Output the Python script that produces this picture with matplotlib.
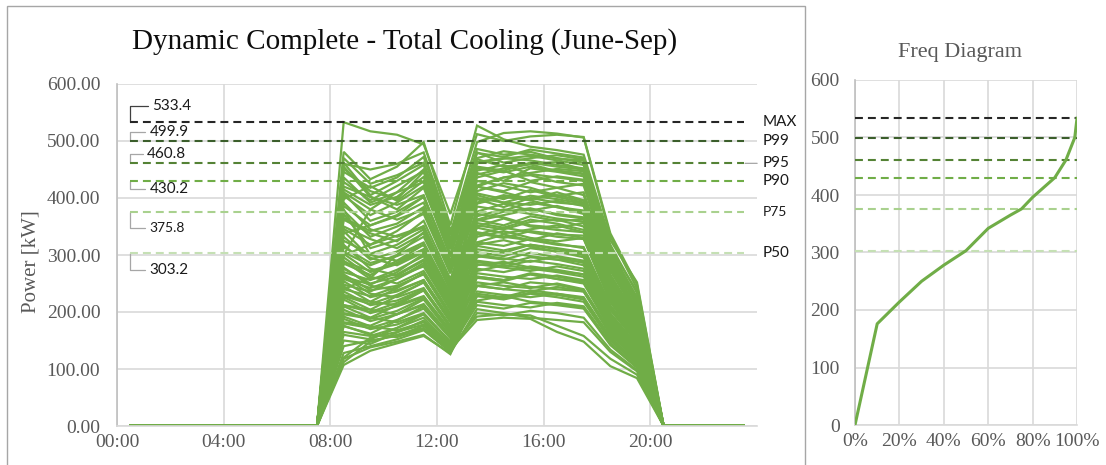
import numpy as np
import matplotlib.pyplot as plt
from matplotlib.patches import Rectangle

# hourly total cooling power [kW] for each day, 08:30 .. 19:30 (zero outside)
day_profiles = [
    [533, 517, 511, 494, 372, 512, 500, 508, 511, 507, 338, 248],
    [481, 433, 455, 498, 352, 527, 503, 490, 484, 476, 326, 252],
    [446, 418, 436, 472, 338, 498, 514, 517, 513, 506, 333, 241],
    [462, 405, 430, 458, 328, 486, 476, 481, 469, 466, 318, 233],
    [428, 396, 421, 447, 316, 479, 472, 485, 478, 471, 309, 226],
    [415, 388, 402, 437, 312, 468, 455, 460, 463, 450, 302, 220],
    [398, 421, 395, 430, 301, 461, 469, 474, 466, 458, 298, 216],
    [404, 370, 392, 421, 297, 452, 445, 455, 448, 443, 295, 214],
    [455, 402, 388, 405, 285, 420, 436, 444, 451, 447, 290, 204],
    [300, 318, 342, 376, 268, 463, 470, 466, 458, 452, 301, 212],
    [372, 312, 326, 351, 248, 441, 452, 459, 447, 442, 288, 200],
    [338, 352, 370, 402, 286, 430, 421, 410, 418, 405, 266, 190],
    [285, 265, 290, 318, 226, 448, 458, 442, 436, 430, 280, 196],
    [410, 380, 362, 380, 272, 390, 402, 396, 384, 378, 248, 176],
    [262, 248, 270, 302, 214, 422, 436, 440, 428, 422, 275, 192],
    [365, 342, 355, 384, 276, 405, 392, 388, 395, 386, 252, 178],
    [248, 236, 258, 286, 205, 408, 398, 414, 402, 392, 258, 182],
    [392, 345, 332, 348, 250, 362, 376, 382, 370, 364, 240, 170],
    [325, 302, 318, 345, 244, 392, 405, 398, 410, 396, 262, 186],
    [230, 218, 242, 268, 192, 385, 378, 392, 384, 372, 244, 172],
    [350, 328, 312, 338, 238, 352, 345, 358, 362, 350, 232, 165],
    [305, 282, 300, 322, 232, 372, 366, 352, 348, 356, 234, 166],
    [212, 204, 228, 252, 182, 368, 380, 372, 364, 358, 236, 168],
    [342, 295, 282, 305, 220, 336, 348, 340, 332, 328, 218, 156],
    [288, 272, 286, 310, 225, 348, 338, 345, 352, 340, 226, 160],
    [198, 190, 212, 238, 172, 356, 348, 362, 355, 344, 228, 162],
    [318, 276, 264, 290, 210, 322, 316, 328, 320, 312, 208, 150],
    [270, 256, 274, 298, 216, 332, 342, 330, 324, 330, 218, 154],
    [182, 176, 196, 222, 162, 340, 332, 326, 338, 330, 220, 158],
    [296, 262, 250, 272, 198, 305, 298, 312, 306, 296, 198, 142],
    [258, 242, 258, 282, 205, 316, 308, 318, 312, 305, 204, 148],
    [175, 162, 185, 210, 155, 318, 326, 315, 306, 300, 206, 150],
    [278, 246, 238, 256, 188, 290, 284, 296, 292, 282, 190, 136],
    [240, 228, 244, 268, 195, 300, 294, 288, 298, 290, 196, 142],
    [160, 152, 172, 196, 146, 298, 292, 304, 296, 286, 194, 140],
    [262, 232, 226, 242, 176, 276, 270, 280, 274, 266, 180, 130],
    [228, 214, 230, 252, 184, 284, 278, 272, 280, 272, 186, 134],
    [150, 144, 164, 185, 140, 282, 288, 278, 272, 266, 182, 132],
    [245, 218, 212, 228, 168, 262, 256, 268, 262, 254, 172, 124],
    [212, 200, 216, 238, 175, 268, 262, 258, 264, 256, 176, 128],
    [140, 150, 158, 176, 135, 262, 256, 266, 258, 250, 170, 122],
    [226, 204, 196, 214, 158, 246, 240, 252, 248, 238, 164, 118],
    [196, 188, 202, 224, 165, 252, 246, 242, 250, 240, 166, 120],
    [128, 140, 152, 168, 130, 246, 240, 236, 244, 236, 162, 116],
    [210, 190, 182, 198, 148, 228, 224, 234, 230, 222, 152, 110],
    [180, 172, 186, 206, 154, 236, 230, 226, 232, 224, 156, 112],
    [118, 138, 148, 160, 126, 228, 222, 232, 226, 218, 150, 108],
    [192, 175, 168, 182, 138, 212, 206, 216, 212, 206, 142, 102],
    [165, 158, 172, 190, 142, 218, 212, 208, 216, 210, 146, 104],
    [107, 132, 145, 158, 128, 205, 198, 190, 186, 182, 130, 96],
    [176, 160, 156, 170, 131, 198, 194, 202, 198, 190, 134, 98],
    [112, 148, 160, 172, 134, 186, 190, 188, 165, 148, 105, 84],
    [120, 155, 165, 178, 138, 192, 196, 194, 176, 158, 118, 90],
    [470, 425, 440, 462, 335, 480, 462, 470, 475, 468, 312, 236],
    [452, 412, 398, 446, 322, 455, 448, 462, 455, 450, 296, 218],
    [436, 392, 410, 428, 310, 444, 430, 452, 446, 438, 292, 212],
    [420, 402, 380, 418, 300, 436, 448, 430, 438, 432, 284, 206],
    [408, 360, 376, 402, 290, 420, 412, 428, 418, 425, 280, 204],
    [386, 352, 368, 392, 280, 412, 426, 418, 404, 410, 272, 198],
    [378, 332, 350, 372, 268, 398, 384, 400, 392, 388, 258, 186],
    [362, 338, 324, 360, 258, 376, 390, 378, 386, 374, 250, 180],
    [346, 318, 334, 350, 252, 362, 352, 368, 360, 362, 242, 174],
    [332, 292, 306, 332, 240, 350, 364, 350, 344, 340, 228, 164],
    [314, 286, 298, 318, 232, 338, 330, 342, 336, 334, 222, 160],
    [302, 270, 284, 308, 222, 322, 336, 326, 318, 314, 212, 152],
    [290, 258, 266, 292, 212, 310, 304, 318, 310, 302, 204, 146],
    [276, 250, 262, 280, 204, 296, 306, 298, 292, 288, 194, 140],
    [266, 238, 246, 266, 194, 288, 280, 290, 284, 276, 186, 134],
    [254, 226, 236, 256, 186, 272, 282, 276, 270, 262, 178, 128],
    [236, 212, 220, 240, 176, 260, 254, 266, 258, 252, 170, 122],
    [222, 198, 210, 226, 166, 246, 252, 244, 240, 236, 160, 116],
    [204, 184, 196, 212, 158, 232, 226, 238, 232, 226, 154, 110],
    [188, 170, 178, 196, 148, 220, 228, 218, 214, 208, 144, 104],
    [380, 300, 290, 310, 225, 470, 482, 476, 470, 462, 305, 220],
    [300, 380, 410, 450, 320, 360, 370, 380, 372, 366, 240, 172],
    [240, 260, 300, 340, 250, 420, 410, 398, 405, 395, 262, 188],
    [460, 450, 460, 480, 345, 400, 392, 404, 398, 390, 256, 182],
]
hours = np.arange(24) + 0.5
first_hour = 8

# percentile levels
pct_names = ['MAX', 'P99', 'P95', 'P90', 'P75', 'P50']
pct_values = [533.4, 499.9, 460.8, 430.2, 375.8, 303.2]
pct_colors = ['#262626', '#3b5e2b', '#548235', '#70ad47', '#a9d18e', '#c5e0b4']

# cumulative distribution for the freq diagram
freq_pct = [0, 10, 20, 30, 40, 50, 60, 70, 75, 80, 90, 95, 99, 100]
freq_kw = [0, 176, 214, 250, 278, 303.2, 342, 365, 375.8, 396, 430.2, 460.8, 499.9, 533.4]

serif = 'Liberation Serif'
sans = 'Lato'
grid_c = '#d9d9d9'
green = '#70ad47'
tick_c = '#595959'
dash = (0, (3.8, 2.4))

W, H = 1106, 465
fig = plt.figure(figsize=(W / 100, H / 100), dpi=100)

# chart frame around the main plot
fig.add_artist(Rectangle((7 / W, -0.1), (805 - 7) / W, (H - 6) / H + 0.1,
                         transform=fig.transFigure, fill=False,
                         edgecolor='#a6a6a6', lw=1))

ax = fig.add_axes([117 / W, 1 - 426 / H, (757 - 117) / W, (426 - 84) / H])
ax2 = fig.add_axes([855 / W, 1 - 425 / H, (1077 - 855) / W, (425 - 80) / H])

for a in (ax, ax2):
    a.set_axisbelow(True)
    a.grid(True, color=grid_c, lw=1.2)
    for s in ('top', 'right'):
        a.spines[s].set_visible(False)
    a.spines['left'].set_color('#bfbfbf')
    a.spines['bottom'].set_color(grid_c)
    a.spines['left'].set_linewidth(1.2)
    a.spines['bottom'].set_linewidth(1.2)
    a.tick_params(length=0, colors=tick_c, labelsize=14)

# daily profiles
for prof in day_profiles:
    full = np.zeros(24)
    full[first_hour:first_hour + len(prof)] = prof
    ax.plot(hours, full, color=green, lw=1.6, solid_joinstyle='miter')

ax.set_xlim(0, 24)
ax.set_ylim(0, 600)
ax.set_xticks(np.arange(0, 24, 4))
ax.set_xticklabels([f'{h:02d}:00' for h in range(0, 24, 4)], family=serif)
ax.set_yticks(np.arange(0, 601, 100))
ax.set_yticklabels([f'{v:.2f}' for v in range(0, 601, 100)], family=serif)
ax.tick_params(axis='y', pad=12)
ax.tick_params(axis='x', pad=6)

# percentile lines and labels
left_offsets = [(15.8, 11.5), (13.7, 6.5), (12.2, 6.5), (13.7, -5.8), (13.7, -11.5), (13.7, -12.2)]
for name, v, c, off in zip(pct_names, pct_values, pct_colors, left_offsets):
    ax.hlines(v, hours[0], hours[-1], colors=c, lw=1.5, linestyles=[dash], zorder=5)
    lead = '#404040' if name == 'MAX' else '#a6a6a6'
    small = name == 'P75'
    ax.annotate(f'{v:.1f}', xy=(hours[0], v), xytext=off, textcoords='offset points',
                ha='left', va='center', family=sans, fontsize=10 if small else 11,
                color='#1a1a1a',
                arrowprops=dict(arrowstyle='-', color=lead, lw=0.9, shrinkA=1, shrinkB=0,
                                relpos=(0, 0.5),
                                connectionstyle='angle,angleA=0,angleB=90,rad=0'))
    props = None
    if name == 'P95':
        props = dict(arrowstyle='-', color='#a6a6a6', lw=0.9, shrinkA=2, shrinkB=1,
                     relpos=(0, 0.5))
    ax.annotate(name, xy=(hours[-1], v), xytext=(13.7, 0), textcoords='offset points',
                ha='left', va='center', family=sans, fontsize=10 if small else 11,
                color='#1a1a1a', arrowprops=props)

fig.text(405 / W, 1 - 42 / H, 'Dynamic Complete - Total Cooling (June-Sep)',
         ha='center', va='center', family=serif, fontsize=21, color='#0d0d0d')
fig.text(31 / W, 1 - 262 / H, 'Power [kW]', rotation=90, ha='center', va='center',
         family=serif, fontsize=15, color=tick_c)

# freq diagram
for v, c in zip(pct_values, pct_colors):
    ax2.axhline(v, color=c, lw=1.5, linestyle=dash, zorder=3)
ax2.plot(freq_pct, freq_kw, color=green, lw=2.2, zorder=4)
ax2.set_xlim(0, 100)
ax2.set_ylim(0, 600)
ax2.set_xticks(np.arange(0, 101, 20))
ax2.set_xticklabels([f'{p}%' for p in range(0, 101, 20)], family=serif)
ax2.set_yticks(np.arange(0, 601, 100))
ax2.set_yticklabels([str(v) for v in range(0, 601, 100)], family=serif)
ax2.tick_params(axis='y', pad=11)
ax2.tick_params(axis='x', pad=6)
fig.text(960 / W, 1 - 53 / H, 'Freq Diagram', ha='center', va='center',
         family=serif, fontsize=16, color=tick_c)

fig.savefig('out.png', dpi=100)
